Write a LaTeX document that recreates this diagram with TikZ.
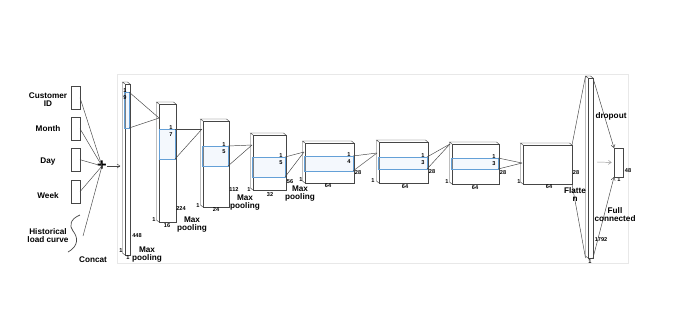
\documentclass[tikz,border=0pt]{standalone}
\usepackage{fontspec}
\setmainfont{Liberation Sans}
\usepackage{xcolor}
\definecolor{ink}{RGB}{70,70,70}
\definecolor{kernblue}{RGB}{100,160,215}
\definecolor{kernfill}{RGB}{225,237,250}
\definecolor{framegray}{RGB}{232,232,232}
\definecolor{steel}{RGB}{150,150,150}
\usepackage{tikz}
\usetikzlibrary{arrows.meta,positioning,calc}

\begin{document}
\begin{tikzpicture}[
  x=0.03cm, y=-0.03cm,
  layer/.style={rectangle,draw=ink,fill=white,inner sep=0pt,outer sep=0pt,
                anchor=north west},
  kern/.style={rectangle,draw=kernblue,fill=kernfill,fill opacity=0.35,
               line width=0.6pt,inner sep=0pt,outer sep=0pt,anchor=north west},
  inbox/.style={rectangle,draw=ink,fill=white,inner sep=0pt,outer sep=0pt,
                anchor=north west,minimum width=0.27cm,minimum height=0.7cm},
  dim/.style={font=\fontsize{4.8}{5}\selectfont\bfseries,inner sep=0pt},
  lbl/.style={font=\fontsize{7}{6.8}\selectfont\bfseries,align=center,inner sep=0pt},
  link/.style={draw=ink,thin},
  tip/.style={-{Straight Barb[length=2.5pt,width=3.5pt]}},
]
  \useasboundingbox (0,0) rectangle (675,322);
  \draw[framegray] (117,74) rectangle (628,263);

  %% inputs
  \foreach \i/\y in {1/86, 2/117, 3/148, 4/180}{%
    \node[inbox] (in\i) at (71,\y) {};
  }
  \node[lbl] (tcust) at (48,100) {Customer\\ID};
  \node[lbl] (tmonth) at (48,129) {Month};
  \node[lbl] (tday) at (48,162) {Day};
  \node[lbl] (tweek) at (48,196) {Week};
  \node[lbl] (thist) at (48,236) {Historical\\load curve};
  \draw[ink,semithick] (80,215) .. controls (70,219) and (69,226) .. (73,231)
    .. controls (78,237) and (79,246) .. (68,252);
  \coordinate (hc) at (83,236);

  \node[font=\fontsize{14}{14}\selectfont\bfseries,inner sep=0pt] (plus) at (102,166) {+};
  \foreach \i in {1,...,4}{%
    \draw[link] (in\i.east) -- (plus.center);
  }
  \draw[link] (hc) -- (plus.center);
  \node[lbl] (tconcat) at (93,260) {Concat};

  %% conv blocks
  \foreach \nm/\x/\y/\w/\h in {b1/125/84/5/171, b2/159/104/17/118,
      b3/203/121/26/86, b4/253/135/33/55, b5/305/143/49/40,
      b6/379/142/49/41, b7/452/144/47/40, b8/523/145/49/39,
      fl/588/78/5/180}{%
    \node[layer,minimum width={\w*0.03cm},minimum height={\h*0.03cm}]
      (\nm) at (\x,\y) {};
    \draw[ink] (\nm.north west) -- ++(-2.5,-2)
      -- ([shift={(-2.5,-2)}]\nm.north east) -- (\nm.north east);
    \draw[ink] ([shift={(-2.5,-2)}]\nm.north west)
      -- ([shift={(-2.5,-2)}]\nm.south west) -- (\nm.south west);
  }
  \draw[link,tip,shorten >=4pt] (plus.east) -- (plus -| b1.west);

  %% kernels
  \foreach \nm/\x/\y/\w/\h/\d in {k1/124/92/5/36/9, k2/159/129/16/30/7,
      k3/202/146/26/20/5, k4/252/157/33/20/5, k5/304/156/49/15/4,
      k6/378/157/49/12/3, k7/451/158/47/11/3}{%
    \node[kern,minimum width={\w*0.03cm},minimum height={\h*0.03cm}]
      (\nm) at (\x,\y) {};
    \node[dim] (\nm-a) at ([shift={(-4,-1.5)}]\nm.north east) {1};
    \node[dim] (\nm-b) at ([shift={(-4,5.5)}]\nm.north east) {\d};
  }

  %% convergence points
  \coordinate (p2) at (159,118);
  \coordinate (p3) at (202,129);
  \coordinate (p4) at (252,145);
  \coordinate (p5) at (304,152);
  \coordinate (p6) at (377,153);
  \coordinate (p7) at (450,144);
  \coordinate (p8) at (522,163);
  \foreach \k/\p in {k1/p2, k2/p3, k3/p4, k4/p5, k5/p6, k6/p7, k7/p8}{%
    \draw[link] (\k.north east) -- (\p);
    \draw[link] (\k.south east) -- (\p);
  }

  %% sizes
  \foreach \x/\y/\t [count=\i] in {137/236/448, 121/251/1, 128/258/1,
      181/209/224, 154/220/1, 167/226/16,
      234/190/112, 198/206/1, 216/210/24,
      290/182/56, 249/190/1, 270/195/32,
      358/173/28, 301/180/1, 328/186/64,
      432/172/28, 373/181/1, 405/187/64,
      503/173/28, 447/182/1, 475/188/64,
      576/173/28, 519/182/1, 549/187/64,
      601/240/1792, 590/262/1, 628/171/48, 619/180/1}{%
    \node[dim] (d\i) at (\x,\y) {\t};
  }

  %% pooling labels
  \foreach \x/\y [count=\i] in {147/255, 192/225, 245/203, 300/194}{%
    \node[lbl] (mp\i) at (\x,\y) {Max\\pooling};
  }

  %% flatten + dense
  \draw[link] (b8.north east) -- ([shift={(-2.5,-2)}]fl.north west);
  \draw[link] (b8.south east) -- ([xshift=-2.5*0.03cm]fl.south west);
  \node[lbl] (tflat) at (575,195) {Flatte\\n};
  \node[layer,minimum width=0.27cm,minimum height=0.87cm] (out) at (614,148) {};
  \draw[link,tip] (fl.north east) -- (out.north west);
  \draw[link,tip] (fl.south east) -- (out.south west);
  \coordinate (mid) at (597,162);
  \draw[steel,tip,shorten >=2pt] (mid) -- (out.west);
  \node[lbl] (tdrop) at (611,116) {dropout};
  \node[lbl] (tfull) at (615,215) {Full\\connected};
\end{tikzpicture}
\end{document}
